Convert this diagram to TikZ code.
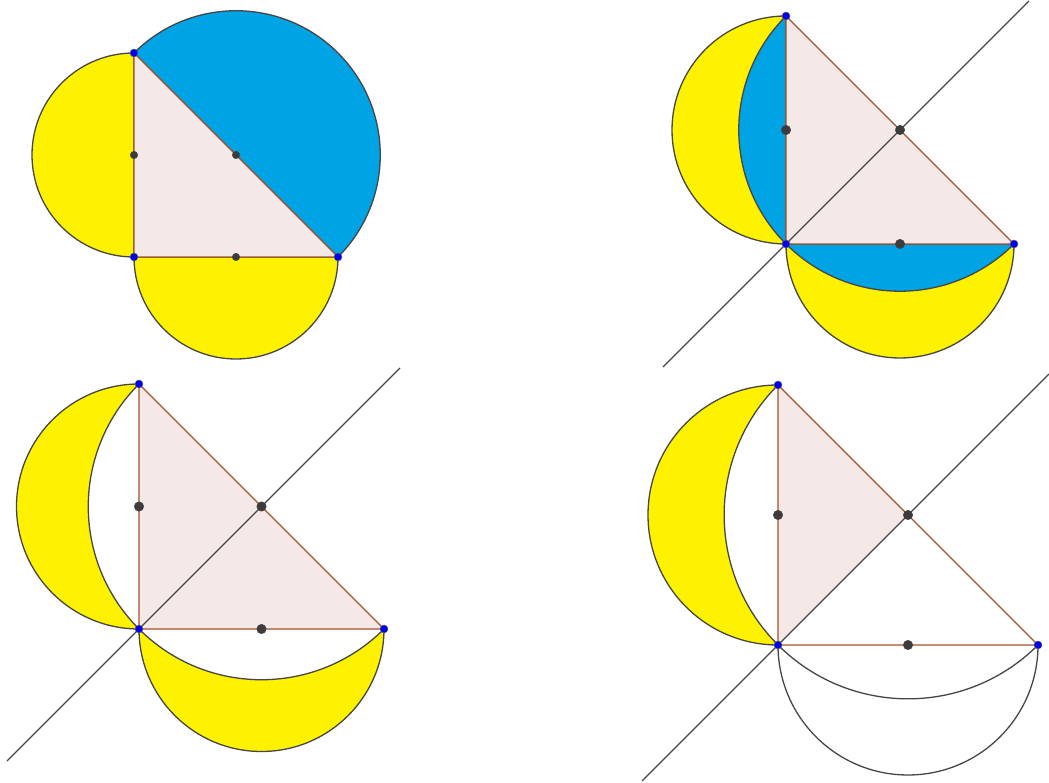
\documentclass[tikz,border=0pt]{standalone}
\usepackage{tikz}
\definecolor{lunyel}{RGB}{255,242,0}
\definecolor{lunblue}{RGB}{0,163,228}
\definecolor{tripink}{RGB}{244,233,230}
\definecolor{triedge}{RGB}{165,82,45}
\definecolor{arcgray}{RGB}{70,70,70}
\definecolor{ptblue}{RGB}{0,0,235}
\definecolor{ptgray}{RGB}{60,60,60}

\begin{document}
\begin{tikzpicture}[x=1pt, y=1pt,
  yel/.style={fill=lunyel},
  blu/.style={fill=lunblue},
  tri/.style={fill=tripink},
  rim/.style={draw=arcgray, line width=1.3pt},
  edg/.style={draw=triedge, line width=1.3pt, line join=round},
  diag/.style={draw=arcgray, line width=1.3pt},
  vtx/.style={circle, fill=ptblue, draw=black!60, line width=0.4pt,
              inner sep=0pt, minimum size=8pt},
  midpt/.style={circle, fill=ptgray, draw=black!75, line width=0.4pt,
                inner sep=0pt, minimum size=#1},
  midpt/.default=9.5pt,
]
  \useasboundingbox (0,0) rectangle (1049,783);

  % top left
  \coordinate (A1) at (134,730);
  \coordinate (C1) at (134,526);
  \coordinate (B1) at (338,526);
  \coordinate (P1) at (134,628);
  \coordinate (Q1) at (236,526);
  \coordinate (M1) at (236,628);
  \path[yel, rim] (A1) arc[start angle=90, end angle=270, radius=102] -- cycle;
  \path[yel, rim] (C1) arc[start angle=180, end angle=360, radius=102] -- cycle;
  \path[blu, rim] (B1) arc[start angle=-45, end angle=135, radius=144.25] -- cycle;
  \path[tri] (A1) -- (C1) -- (B1) -- cycle;
  \path[edg] (A1) -- (C1) -- (B1) -- cycle;

  % top right
  \coordinate (A2) at (786,767);
  \coordinate (C2) at (786,539);
  \coordinate (B2) at (1014,539);
  \coordinate (P2) at (786,653);
  \coordinate (Q2) at (900,539);
  \coordinate (M2) at (900,653);
  \coordinate (L2a) at (663,416);
  \coordinate (L2b) at (1029,782);
  \path[yel, rim] (A2) arc[start angle=90, end angle=270, radius=114] -- cycle;
  \path[yel, rim] (C2) arc[start angle=180, end angle=360, radius=114] -- cycle;
  \path[blu, rim] (A2) arc[start angle=135, end angle=225, radius=161.22] -- cycle;
  \path[blu, rim] (C2) arc[start angle=225, end angle=315, radius=161.22] -- cycle;
  \path[tri] (A2) -- (C2) -- (B2) -- cycle;
  \path[diag] (L2a) -- (L2b);
  \path[edg] (A2) -- (C2) -- (B2) -- cycle;

  % bottom left
  \coordinate (A3) at (139,399);
  \coordinate (C3) at (139,154);
  \coordinate (B3) at (384,154);
  \coordinate (P3) at (139,276.5);
  \coordinate (Q3) at (261.5,154);
  \coordinate (M3) at (261.5,276.5);
  \coordinate (L3a) at (7,22);
  \coordinate (L3b) at (400,415);
  \path[yel, rim] (A3) arc[start angle=90, end angle=270, radius=122.5]
    arc[start angle=225, end angle=135, radius=173.24] -- cycle;
  \path[yel, rim] (C3) arc[start angle=180, end angle=360, radius=122.5]
    arc[start angle=315, end angle=225, radius=173.24] -- cycle;
  \path[tri] (A3) -- (C3) -- (B3) -- cycle;
  \path[diag] (L3a) -- (L3b);
  \path[edg] (A3) -- (C3) -- (B3) -- cycle;

  % bottom right
  \coordinate (A4) at (778,398);
  \coordinate (C4) at (778,138);
  \coordinate (B4) at (1038,138);
  \coordinate (P4) at (778,268);
  \coordinate (Q4) at (908,138);
  \coordinate (M4) at (908,268);
  \coordinate (L4a) at (642,2);
  \coordinate (L4b) at (1049,409);
  \path[yel, rim] (A4) arc[start angle=90, end angle=270, radius=130]
    arc[start angle=225, end angle=135, radius=183.85] -- cycle;
  \path[rim] (C4) arc[start angle=180, end angle=360, radius=130]
    arc[start angle=315, end angle=225, radius=183.85];
  \path[tri] (A4) -- (C4) -- (M4) -- cycle;
  \path[diag] (L4a) -- (L4b);
  \path[edg] (A4) -- (C4) -- (B4) -- cycle;

  % points
  \node[midpt=7.5pt] (p1) at (P1) {};
  \node[midpt=7.5pt] (q1) at (Q1) {};
  \node[midpt=7.5pt] (m1) at (M1) {};
  \node[vtx] (a1) at (A1) {};
  \node[vtx] (c1) at (C1) {};
  \node[vtx] (b1) at (B1) {};

  \node[midpt] (p2) at (P2) {};
  \node[midpt] (q2) at (Q2) {};
  \node[midpt] (m2) at (M2) {};
  \node[vtx] (a2) at (A2) {};
  \node[vtx] (c2) at (C2) {};
  \node[vtx] (b2) at (B2) {};

  \node[midpt] (p3) at (P3) {};
  \node[midpt] (q3) at (Q3) {};
  \node[midpt] (m3) at (M3) {};
  \node[vtx] (a3) at (A3) {};
  \node[vtx] (c3) at (C3) {};
  \node[vtx] (b3) at (B3) {};

  \node[midpt] (p4) at (P4) {};
  \node[midpt] (q4) at (Q4) {};
  \node[midpt] (m4) at (M4) {};
  \node[vtx] (a4) at (A4) {};
  \node[vtx] (c4) at (C4) {};
  \node[vtx] (b4) at (B4) {};
\end{tikzpicture}
\end{document}
